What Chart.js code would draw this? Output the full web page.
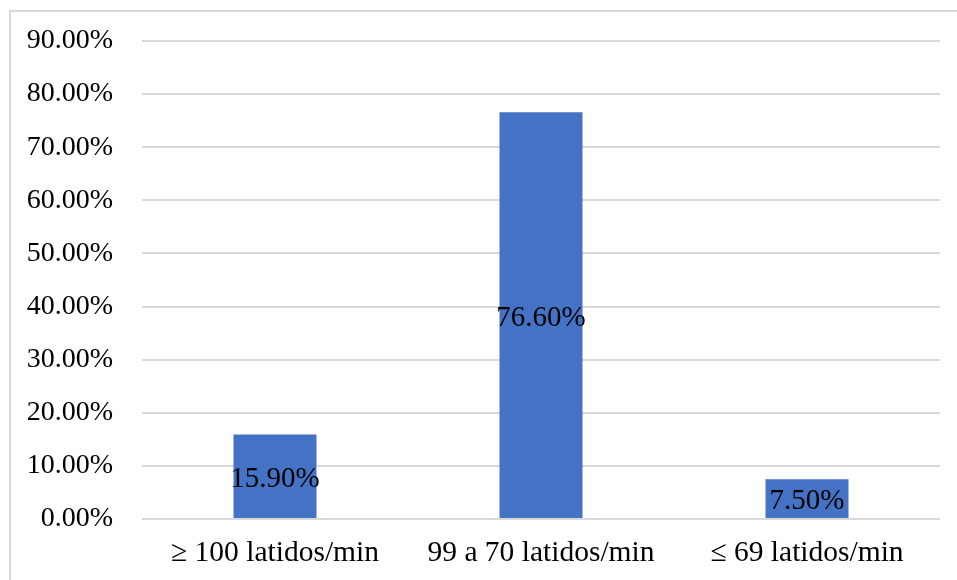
<!DOCTYPE html>
<html>
<head>
<meta charset="utf-8">
<script src="https://cdn.jsdelivr.net/npm/chart.js@4/dist/chart.umd.min.js"></script>
<style>
  html, body { margin: 0; padding: 0; background: #fff; }
  body { width: 957px; height: 580px; position: relative; overflow: hidden; }
  .frame { position: absolute; left: 9px; top: 10px; width: 980px; height: 620px;
           border: 2px solid #d9d9d9; box-sizing: border-box; }
  #wrap { position: absolute; left: 0; top: 0; width: 957px; height: 580px; }
</style>
</head>
<body>
<div class="frame"></div>
<div id="wrap"><canvas id="chart"></canvas></div>
<script>
// Heart-rate groups and their share of patients (%)
const categories = ['\u2265 100 latidos/min', '99 a 70 latidos/min', '\u2264 69 latidos/min'];
const shares = [15.9, 76.6, 7.5];
const yTicks = [0, 10, 20, 30, 40, 50, 60, 70, 80, 90];

const FONT = '"Liberation Serif", "Times New Roman", serif';

// Writes each bar's value in the middle of the bar
const valueLabels = {
  id: 'valueLabels',
  afterDatasetsDraw(chart) {
    const ctx = chart.ctx;
    const meta = chart.getDatasetMeta(0);
    ctx.save();
    ctx.font = '29px ' + FONT;
    ctx.fillStyle = '#000';
    ctx.textAlign = 'center';
    ctx.textBaseline = 'middle';
    meta.data.forEach((bar, i) => {
      const yc = (bar.y + bar.base) / 2 + 3;
      ctx.fillText(shares[i].toFixed(2) + '%', bar.x, yc);
    });
    ctx.restore();
  }
};

new Chart(document.getElementById('chart'), {
  type: 'bar',
  data: {
    labels: categories,
    datasets: [{
      data: shares,
      backgroundColor: '#4472C4',
      borderWidth: 0,
      categoryPercentage: 1,
      barPercentage: 0.312
    }]
  },
  options: {
    responsive: true,
    maintainAspectRatio: false,
    animation: false,
    layout: { padding: { top: 41, right: 17, bottom: 0, left: 0 } },
    plugins: { legend: { display: false }, tooltip: { enabled: false } },
    scales: {
      x: {
        grid: { display: false, drawTicks: false },
        border: { display: false },
        ticks: { color: '#000', font: { family: FONT, size: 29.5 }, padding: 17, maxRotation: 0 },
        afterFit(scale) { scale.height = 61; scale.paddingLeft = 0; scale.paddingRight = 0; }
      },
      y: {
        min: 0,
        max: 90,
        afterBuildTicks(scale) { scale.ticks = yTicks.map(v => ({ value: v })); },
        grid: { color: '#d9d9d9', lineWidth: 2, drawTicks: false },
        border: { display: false },
        ticks: {
          color: '#000',
          font: { family: FONT, size: 28 },
          padding: 29,
          callback: v => v.toFixed(2) + '%'
        },
        afterFit(scale) { scale.width = 142; scale.paddingTop = 0; scale.paddingBottom = 0; }
      }
    }
  },
  plugins: [valueLabels]
});
</script>
</body>
</html>
